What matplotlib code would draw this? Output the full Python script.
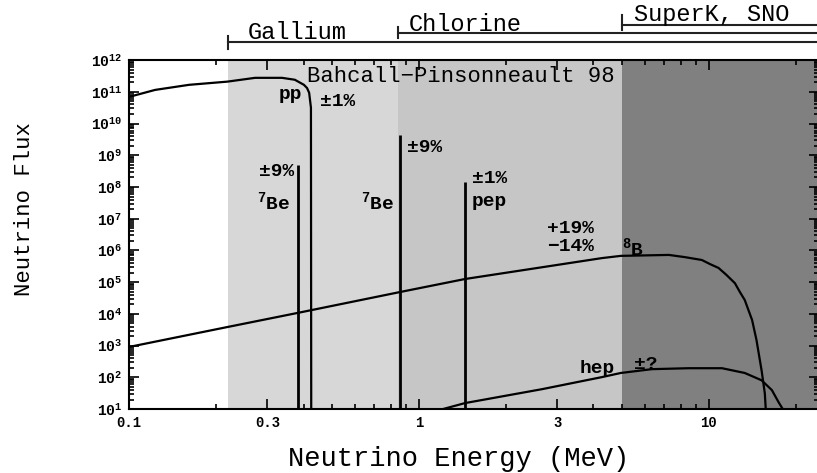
import numpy as np
import matplotlib
matplotlib.use("Agg")
import matplotlib.pyplot as plt
import matplotlib.ticker as mticker
import matplotlib.transforms as mtransforms

plt.rcParams['font.family'] = ['Liberation Mono', 'DejaVu Sans']
plt.rcParams['mathtext.default'] = 'regular'

# =====================================================
# DATA (energies in MeV, log10 flux)
# =====================================================
pp_energy = [0.1, 0.123, 0.161, 0.218, 0.272, 0.337, 0.373, 0.401, 0.411, 0.418, 0.424, 0.425]
pp_logflux = [10.84, 11.06, 11.22, 11.32, 11.44, 11.44, 11.38, 11.22, 11.12, 10.97, 10.50, 0.5]

b8_energy = [0.1, 0.219, 0.395, 0.86, 1.44, 4.28, 4.97, 7.28, 8.27, 9.46, 10.1, 10.8,
             11.5, 12.3, 12.8, 13.3, 14.1, 14.6, 15.2, 15.6, 15.8]
b8_logflux = [2.96, 3.59, 4.06, 4.69, 5.10, 5.76, 5.83, 5.86, 5.79, 5.70, 5.57, 5.45,
              5.23, 4.97, 4.69, 4.44, 3.81, 3.18, 2.23, 1.50, 0.65]

hep_energy = [1.1, 1.44, 2.66, 4.28, 4.97, 6.36, 8.53, 11.1, 13.3, 15.2,
              16.5, 17.4, 18.0, 18.2]
hep_logflux = [0.9, 1.19, 1.63, 2.01, 2.14, 2.26, 2.29, 2.29, 2.14, 1.91,
               1.60, 1.22, 1.0, 0.7]

line_energy = [0.384, 0.862, 1.442]   # 7Be, 7Be, pep
line_logflux = [8.70, 9.64, 8.16]

# detector thresholds (MeV)
gallium_thr = 0.22
chlorine_thr = 0.85
superk_thr = 5.0

xtick_values = [0.1, 0.3, 1, 3, 10]
xtick_labels = ['0.1', '0.3', '1', '3', '10']
ytick_exponents = list(range(1, 13))

# =====================================================
# FIGURE
# =====================================================
fig = plt.figure(figsize=(8.17, 4.73), dpi=100)
ax = fig.add_axes([0.158, 0.135, 0.8445, 0.738])

ax.set_xscale('log')
ax.set_yscale('log')
ax.set_xlim(0.1, 24)
ax.set_ylim(10, 1e12)

ax.axvspan(gallium_thr, chlorine_thr, color='#d7d7d7', lw=0, zorder=0)
ax.axvspan(chlorine_thr, superk_thr, color='#c6c6c6', lw=0, zorder=0)
ax.axvspan(superk_thr, 100, color='#808080', lw=0, zorder=0)

curve_kw = dict(color='black', lw=1.6, solid_joinstyle='round', zorder=3)
ax.plot(pp_energy, 10 ** np.array(pp_logflux), **curve_kw)
ax.plot(b8_energy, 10 ** np.array(b8_logflux), **curve_kw)
ax.plot(hep_energy, 10 ** np.array(hep_logflux), **curve_kw)
ax.vlines(line_energy, 1, 10 ** np.array(line_logflux), color='black', lw=2.0, zorder=3)

# ticks
ax.set_xticks(xtick_values)
ax.set_xticklabels(xtick_labels, fontsize=10, fontweight='bold')
ax.xaxis.set_minor_locator(mticker.LogLocator(base=10, subs=np.arange(2, 10) * 1.0, numticks=20))
ax.xaxis.set_minor_formatter(mticker.NullFormatter())
ax.set_yticks([10.0 ** e for e in ytick_exponents])
ax.set_yticklabels([f'10$^{{{e}}}$' for e in ytick_exponents], fontsize=10.5, fontweight='bold')
ax.yaxis.set_minor_locator(mticker.LogLocator(base=10, subs=np.arange(2, 10) * 1.0, numticks=30))
ax.yaxis.set_minor_formatter(mticker.NullFormatter())
ax.tick_params(which='both', direction='in', top=True, right=True, width=1.2)
ax.tick_params(which='major', length=7, pad=5)
ax.tick_params(which='minor', length=3.5)
for s in ax.spines.values():
    s.set_linewidth(1.5)

ax.set_xlabel('Neutrino Energy (MeV)', fontsize=19.5)
ax.xaxis.set_label_coords(0.477, -0.105)
ax.set_ylabel('Neutrino Flux', fontsize=16)
ax.yaxis.set_label_coords(-0.136, 0.573)

# labels inside the plot
txt = dict(fontsize=14, fontweight='bold', zorder=4)
ax.text(0.258, 10 ** 11.47, 'Bahcall\u2212Pinsonneault 98', fontsize=16, va='center', ha='left', zorder=4,
        transform=mtransforms.blended_transform_factory(ax.transAxes, ax.transData))
ax.text(0.395, 10 ** 10.9, 'pp', ha='right', va='center', **txt)
ax.text(0.456, 10 ** 10.68, '\u00b11%', ha='left', va='center', **txt)
ax.text(0.371, 10 ** 8.48, '\u00b19%', ha='right', va='center', **txt)
ax.text(0.359, 10 ** 7.53, '$^{7}$Be', ha='right', va='center', **txt)
ax.text(0.820, 10 ** 7.53, '$^{7}$Be', ha='right', va='center', **txt)
ax.text(0.909, 10 ** 9.26, '\u00b19%', ha='left', va='center', **txt)
ax.text(1.52, 10 ** 8.26, '\u00b11%', ha='left', va='center', **txt)
ax.text(1.52, 10 ** 7.53, 'pep', ha='left', va='center', **txt)
ax.text(2.76, 10 ** 6.68, '+19%', ha='left', va='center', **txt)
ax.text(2.76, 10 ** 6.11, '\u221214%', ha='left', va='center', **txt)
ax.text(5.01, 10 ** 6.08, '$^{8}$B', ha='left', va='center', **txt)
ax.text(4.74, 10 ** 2.29, 'hep', ha='right', va='center', **txt)
ax.text(5.52, 10 ** 2.42, '\u00b1?', ha='left', va='center', **txt)

# detector brackets above the plot
btr = mtransforms.blended_transform_factory(ax.transData, ax.transAxes)
brackets = [(gallium_thr, 1.052, 1.032, 1.069, 'Gallium', 1.163, 1.080),
            (chlorine_thr, 1.077, 1.064, 1.095, 'Chlorine', 1.083, 1.103),
            (superk_thr, 1.100, 1.086, 1.129, 'SuperK, SNO', 1.108, 1.131)]
for x0, yl, yb, yt, name, xoff, ytxt in brackets:
    ax.plot([x0, 30], [yl, yl], color='#222222', lw=1.5, transform=btr, clip_on=False)
    ax.plot([x0, x0], [yb, yt], color='#222222', lw=1.5, transform=btr, clip_on=False)
    ax.text(x0 * xoff, ytxt, name, transform=btr, fontsize=17, ha='left', va='center')

fig.savefig('out.png', dpi=100)
